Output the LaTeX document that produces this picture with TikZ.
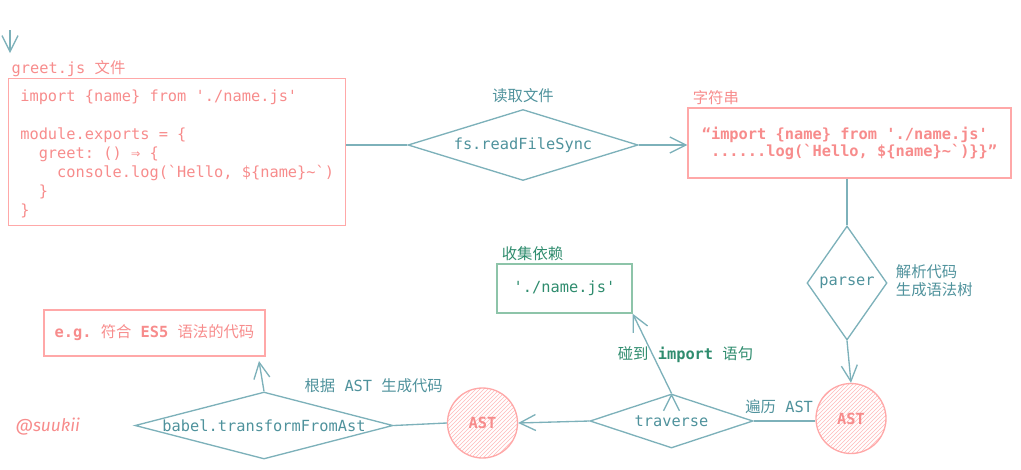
\documentclass[tikz,border=0pt]{standalone}
\usepackage{fontspec}
\setmonofont{DejaVu Sans Mono}
\newfontfamily\cjk{Noto Sans CJK SC}
\newfontfamily\hand{Fira Sans}
\usetikzlibrary{shapes.geometric,positioning,arrows.meta,patterns}
\definecolor{pinkln}{HTML}{FFA8A8}
\definecolor{pinktx}{HTML}{F78C8C}
\definecolor{tealln}{HTML}{7DB1BA}
\definecolor{tealtx}{HTML}{4F929C}
\definecolor{greenln}{HTML}{8DC4A9}
\definecolor{greentx}{HTML}{2F8C6E}
\newcommand\codefont{\ttfamily\fontsize{11.5pt}{14.25pt}\selectfont}

\begin{document}
\begin{tikzpicture}[x=0.75pt,y=-0.75pt,
	every node/.style={font=\codefont},
	codebox/.style={draw=pinkln,line width=1.1pt,text=pinktx,inner sep=0pt},
	depbox/.style={draw=greenln,line width=1.1pt,text=greentx,inner sep=0pt},
	fn/.style={diamond,draw=tealln,line width=1pt,text=tealtx,inner sep=0pt},
	ast/.style={circle,draw=pinkln,line width=1pt,pattern=north east lines,pattern color=pinkln!80,text=pinktx,
		font=\codefont\bfseries,minimum size=52.5pt,inner sep=0pt},
	lbl/.style={inner sep=1pt},
	flow/.style={draw=tealln,line width=1pt,-{Straight Barb[length=12pt,width=12pt]}}]
	\useasboundingbox (0,0) rectangle (1021,469);

	\node[codebox,anchor=north west,minimum width=252.75pt,minimum height=110.25pt,align=left] (greet) at (8,78)
		{\\[-3pt]import \{name\} from './name.js'\\[14.25pt]module.exports = \{\\\phantom{xx}greet: () ⇒ \{\\\phantom{xxxx}console.log(`Hello, \$\{name\}\string~`)\\\phantom{xx}\}\\\}};
	\node[lbl,text=pinktx,above right=0pt and 1.5pt of greet.north west] (greetlbl) {greet.js {\cjk 文件}};
	\node[fn,minimum width=172.5pt,minimum height=53.25pt,aspect=3.2] (read) at (523,145) {fs.readFileSync};
	\node[lbl,text=tealtx,above=3pt of read] (readlbl) {\cjk 读取文件};
	\node[codebox,minimum width=242.25pt,minimum height=52.5pt,align=left,
		font=\codefont\bfseries\linespread{0.9}\selectfont] (str) at (849.5,143)
		{“import \{name\} from './name.js'\\\phantom{x}......log(`Hello, \$\{name\}\string~`)\}\}”};
	\node[lbl,text=pinktx,above right=1pt and 3pt of str.north west] (strlbl) {\cjk 字符串};
	\node[fn,minimum width=60pt,minimum height=85.5pt,aspect=0.7] (parser) at (847,283) {parser};
	\node[lbl,text=tealtx,right=5pt of parser,yshift=2pt,align=left,font=\cjk\fontsize{11.5pt}{13.5pt}\selectfont] (parselbl) {解析代码\\生成语法树};
	\node[ast] (ast1) at (851,418.5) {AST};
	\node[fn,minimum width=122.25pt,minimum height=40.5pt,aspect=3] (trav) at (671.5,421) {traverse};
	\node[ast] (ast2) at (482.5,423) {AST};
	\node[fn,minimum width=193.5pt,minimum height=50.25pt,aspect=3.85] (babel) at (264,425.5) {babel.transformFromAst};
	\node[lbl,text=tealtx,anchor=west] (genlbl) at (303,386) {{\cjk 根据} AST {\cjk 生成代码}};
	\node[codebox,minimum width=165.75pt,minimum height=34.5pt] (res) at (154.5,333) {\textbf{e.g.} {\cjk 符合} \textbf{ES5} {\cjk 语法的代码}};
	\node[depbox,minimum width=101.25pt,minimum height=36.75pt] (dep) at (564.5,288.5) {'./name.js'};
	\node[lbl,text=greentx,above right=1pt and 3pt of dep.north west] (deplbl) {\cjk 收集依赖};
	\node[lbl,text=greentx] (hitlbl) at (685.5,355) {{\cjk 碰到} \textbf{import} {\cjk 语句}};
	\node[lbl,text=pinktx,font=\hand\itshape\fontsize{13pt}{15pt}\selectfont,anchor=west] (sign) at (14,427) {@suukii};

	\coordinate (start) at (10,30);
	\coordinate (entry) at (10,53);
	\coordinate (resin) at (259,361);

	\path[flow]
	(start) edge (entry)
	(read.east) edge (str.west |- read.east)
	(parser.south) edge (ast1.north)
	(trav.west) edge (ast2.east)
	(babel.north) edge (resin)
	(trav.north) edge (dep.south east);

	\path[draw=tealln,line width=1pt]
	(read.west -| greet.east) edge (read.west)
	(parser.north |- str.south) edge (parser.north)
	(ast1.west |- trav.east) edge node[lbl,above,text=tealtx,xshift=-4pt,yshift=4pt] (travlbl) {{\cjk 遍历} AST} (trav.east)
	(ast2.west) edge (babel.east);
\end{tikzpicture}
\end{document}
